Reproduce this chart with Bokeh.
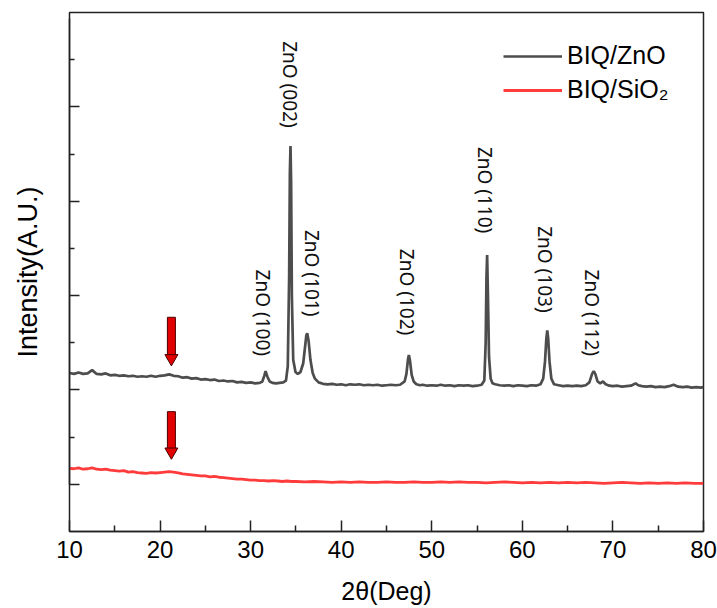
from bokeh.plotting import figure
from bokeh.models import FixedTicker, Legend, LegendItem, CustomJSTickFormatter
from bokeh.core.properties import value
from bokeh.embed import file_html
from bokeh.resources import INLINE
import math

# ---- data ----
znO_x = [10.0, 10.5, 11.0, 11.5, 12.0, 12.5, 13.0, 13.5, 14.0, 14.5,
         15.0, 15.5, 16.0, 16.5, 17.0, 17.5, 18.0, 18.5, 19.0, 19.5,
         20.0, 20.5, 21.0, 21.5, 22.0, 22.5, 23.0, 23.5, 24.0, 24.5,
         25.0, 25.5, 26.0, 26.5, 27.0, 27.5, 28.0, 28.5, 29.0, 29.5,
         30.0, 30.5, 31.0, 31.3, 31.5, 31.65, 31.85, 32.1, 32.4, 32.8,
         33.2, 33.6, 33.9, 34.1, 34.25, 34.33, 34.4, 34.47, 34.55, 34.7,
         34.95, 35.2, 35.5, 35.8, 36.0, 36.15, 36.25, 36.4, 36.6, 36.85,
         37.1, 37.5, 38.0, 38.5, 39.0, 39.5, 40.0, 40.5, 41.0, 41.5,
         42.0, 42.5, 43.0, 43.5, 44.0, 44.5, 45.0, 45.5, 46.0, 46.5,
         47.0, 47.2, 47.38, 47.47, 47.58, 47.78, 48.0, 48.3, 48.7, 49.0,
         49.5, 50.0, 50.5, 51.0, 51.5, 52.0, 52.5, 53.0, 53.5, 54.0,
         54.5, 55.0, 55.5, 55.8, 55.95, 56.04, 56.11, 56.2, 56.32, 56.5,
         56.7, 57.0, 57.5, 58.0, 58.5, 59.0, 59.5, 60.0, 60.5, 61.0,
         61.5, 62.0, 62.3, 62.5, 62.65, 62.75, 62.85, 63.0, 63.2, 63.5,
         64.0, 64.5, 65.0, 65.5, 66.0, 66.5, 67.0, 67.4, 67.7, 67.88,
         68.05, 68.3, 68.6, 68.9, 69.2, 69.6, 70.0, 70.5, 71.0, 71.5,
         72.0, 72.5, 72.8, 73.2, 73.7, 74.2, 74.7, 75.2, 75.7, 76.2,
         76.7, 77.2, 77.7, 78.2, 78.7, 79.2, 79.7, 80.0]
znO_y = [2.18, 2.17, 2.185, 2.17, 2.175, 2.21, 2.17, 2.165, 2.175, 2.155,
         2.16, 2.15, 2.155, 2.145, 2.15, 2.14, 2.145, 2.14, 2.15, 2.14,
         2.15, 2.155, 2.165, 2.15, 2.145, 2.13, 2.135, 2.12, 2.125, 2.11,
         2.115, 2.105, 2.11, 2.095, 2.10, 2.09, 2.095, 2.08, 2.085, 2.075,
         2.08, 2.07, 2.075, 2.09, 2.15, 2.20, 2.14, 2.09, 2.075, 2.07,
         2.075, 2.08, 2.10, 2.25, 3.2, 4.3, 4.585, 4.2, 3.0, 2.32,
         2.19, 2.17, 2.19, 2.28, 2.45, 2.58, 2.60, 2.52, 2.32, 2.18,
         2.12, 2.08, 2.065, 2.06, 2.065, 2.055, 2.06, 2.05, 2.06, 2.055,
         2.06, 2.05, 2.055, 2.05, 2.055, 2.045, 2.05, 2.055, 2.05, 2.055,
         2.09, 2.17, 2.33, 2.37, 2.32, 2.16, 2.09, 2.06, 2.05, 2.055,
         2.045, 2.05, 2.045, 2.055, 2.045, 2.05, 2.04, 2.05, 2.045, 2.05,
         2.04, 2.045, 2.055, 2.10, 2.5, 3.2, 3.43, 3.0, 2.35, 2.12,
         2.07, 2.06, 2.05, 2.045, 2.05, 2.04, 2.05, 2.045, 2.04, 2.05,
         2.045, 2.06, 2.12, 2.30, 2.55, 2.63, 2.55, 2.30, 2.12, 2.06,
         2.05, 2.04, 2.045, 2.04, 2.045, 2.04, 2.05, 2.08, 2.17, 2.20,
         2.17, 2.09, 2.07, 2.09, 2.06, 2.045, 2.04, 2.045, 2.035, 2.04,
         2.045, 2.07, 2.05, 2.04, 2.035, 2.04, 2.03, 2.035, 2.03, 2.04,
         2.055, 2.035, 2.03, 2.035, 2.025, 2.03, 2.025, 2.03]

sio2_x = [10.0, 10.5, 11.0, 11.5, 12.0, 12.5, 13.0, 13.5, 14.0, 14.5,
          15.0, 15.5, 16.0, 16.5, 17.0, 17.5, 18.0, 18.5, 19.0, 19.5,
          20.0, 20.5, 21.0, 21.5, 22.0, 22.5, 23.0, 23.5, 24.0, 24.5,
          25.0, 25.5, 26.0, 26.5, 27.0, 27.5, 28.0, 28.5, 29.0, 29.5,
          30.0, 30.5, 31.0, 31.5, 32.0, 32.5, 33.0, 33.5, 34.0, 34.5,
          35.0, 36, 37, 38, 39, 40, 41, 42, 43, 44,
          45, 46, 47, 48, 49, 50, 51, 52, 53, 54,
          55, 56, 57, 58, 59, 60, 61, 62, 63, 64,
          65, 66, 67, 68, 69, 70, 71, 72, 73, 74,
          75, 76, 77, 78, 79, 80]
sio2_y = [1.17, 1.165, 1.175, 1.16, 1.165, 1.175, 1.16, 1.155, 1.16, 1.15,
          1.145, 1.14, 1.145, 1.13, 1.135, 1.125, 1.12, 1.115, 1.125, 1.12,
          1.125, 1.13, 1.135, 1.13, 1.12, 1.11, 1.105, 1.10, 1.095, 1.09,
          1.09, 1.08, 1.085, 1.075, 1.07, 1.065, 1.06, 1.055, 1.055, 1.05,
          1.045, 1.045, 1.04, 1.04, 1.035, 1.04, 1.035, 1.03, 1.035, 1.03,
          1.03, 1.025, 1.03, 1.025, 1.02, 1.025, 1.02, 1.025, 1.02, 1.02,
          1.025, 1.02, 1.02, 1.025, 1.02, 1.02, 1.025, 1.02, 1.025, 1.02,
          1.02, 1.015, 1.02, 1.025, 1.02, 1.015, 1.02, 1.015, 1.02, 1.015,
          1.02, 1.015, 1.02, 1.015, 1.01, 1.015, 1.02, 1.015, 1.01, 1.015,
          1.01, 1.015, 1.01, 1.015, 1.01, 1.01]

peak_labels = ["ZnO (100)", "ZnO (002)", "ZnO (101)", "ZnO (102)",
               "ZnO (110)", "ZnO (103)", "ZnO (112)"]
peak_label_x = [31.4, 34.4, 36.8, 47.3, 55.9, 62.5, 67.7]
peak_label_y = [2.36, 4.78, 2.78, 2.58, 3.66, 2.82, 2.36]

arrow_x = [21.25, 21.25]
arrow_top = [2.77, 1.77]
arrow_tip = [2.255, 1.265]

x_ticks = [10, 20, 30, 40, 50, 60, 70, 80]
x_minor = [15, 25, 35, 45, 55, 65, 75]
y_ticks = [1, 2, 3, 4, 5]
y_minor = [1.5, 2.5, 3.5, 4.5, 5.5]
y_axis_bounds = (1.0, 5.94)

# ---- figure ----
p = figure(width=717, height=608, x_range=(10, 80), y_range=(0.5, 6.0),
           output_backend="svg", toolbar_location=None,
           min_border_left=69, min_border_right=14, min_border_top=12,
           min_border_bottom=77)
p.xgrid.visible = False
p.ygrid.visible = False
p.outline_line_color = "#222222"
p.outline_line_width = 1.5
p.background_fill_color = "white"
p.border_fill_color = "white"

FONT = "Liberation Sans"
xa = p.xaxis[0]
xa.ticker = FixedTicker(ticks=x_ticks, minor_ticks=x_minor)
xa.major_tick_in = 11
xa.major_tick_out = 0
xa.minor_tick_in = 6
xa.minor_tick_out = 0
xa.axis_line_width = 1.5
xa.axis_line_color = "#222222"
xa.major_tick_line_color = "#222222"
xa.minor_tick_line_color = "#222222"
xa.major_tick_line_width = 1.5
xa.minor_tick_line_width = 1.5
xa.major_label_text_font = FONT
xa.major_label_text_font_size = "24px"
xa.major_label_text_color = "black"
xa.major_label_standoff = 9
xa.axis_label = "2θ(Deg)"
xa.axis_label_text_font = FONT
xa.axis_label_text_font_size = "25px"
xa.axis_label_text_font_style = "normal"
xa.axis_label_text_color = "black"
xa.axis_label_standoff = 16

ya = p.yaxis[0]
ya.ticker = FixedTicker(ticks=y_ticks, minor_ticks=y_minor)
ya.bounds = y_axis_bounds
ya.major_tick_in = 10
ya.major_tick_out = 0
ya.minor_tick_in = 5
ya.minor_tick_out = 0
ya.axis_line_width = 1.5
ya.axis_line_color = "#222222"
ya.major_tick_line_color = "#222222"
ya.minor_tick_line_color = "#222222"
ya.major_tick_line_width = 1.5
ya.minor_tick_line_width = 1.5
ya.formatter = CustomJSTickFormatter(code="return ''")
ya.major_label_standoff = 0
ya.axis_label = "Intensity(A.U.)"
ya.axis_label_text_font = FONT
ya.axis_label_text_font_size = "27px"
ya.axis_label_text_font_style = "normal"
ya.axis_label_text_color = "black"
ya.axis_label_standoff = 27

r_zno = p.line(znO_x, znO_y, line_color="#4d4d4d", line_width=2.7)
r_sio2 = p.line(sio2_x, sio2_y, line_color="#ff3b3b", line_width=2.8)

# peak labels
p.text(x=peak_label_x, y=peak_label_y, text=peak_labels, angle=-math.pi / 2,
       text_align="right", text_baseline="middle",
       text_font=value("Noto Sans"), text_font_size="19px", text_color="#111111")

# arrows
head_size = 13
shaft_base = [t + 7.0 / 94.0 for t in arrow_tip]
shaft_mid = [(a + b) / 2 for a, b in zip(arrow_top, shaft_base)]
shaft_h = [a - b for a, b in zip(arrow_top, shaft_base)]
p.rect(x=arrow_x, y=shaft_mid, width=8, width_units="screen", height=shaft_h,
       fill_color="#e00000", line_color="#4a0000", line_width=1)
head_y = [t + 7.5 / 94.0 for t in arrow_tip]
p.scatter(x=arrow_x, y=head_y, marker="inverted_triangle", size=head_size,
          fill_color="#e00000", line_color="#4a0000", line_width=1)

legend = Legend(items=[LegendItem(label="BIQ/ZnO", renderers=[r_zno]),
                       LegendItem(label="BIQ/SiO₂", renderers=[r_sio2])],
                location=(434, 427), padding=0, margin=0, spacing=5,
                glyph_width=59, glyph_height=26, label_height=26,
                label_standoff=5, label_text_font=FONT,
                label_text_font_size="25px", label_text_color="black",
                border_line_alpha=0, background_fill_alpha=0)
p.add_layout(legend)

open("out.html", "w").write(file_html(p, INLINE))
